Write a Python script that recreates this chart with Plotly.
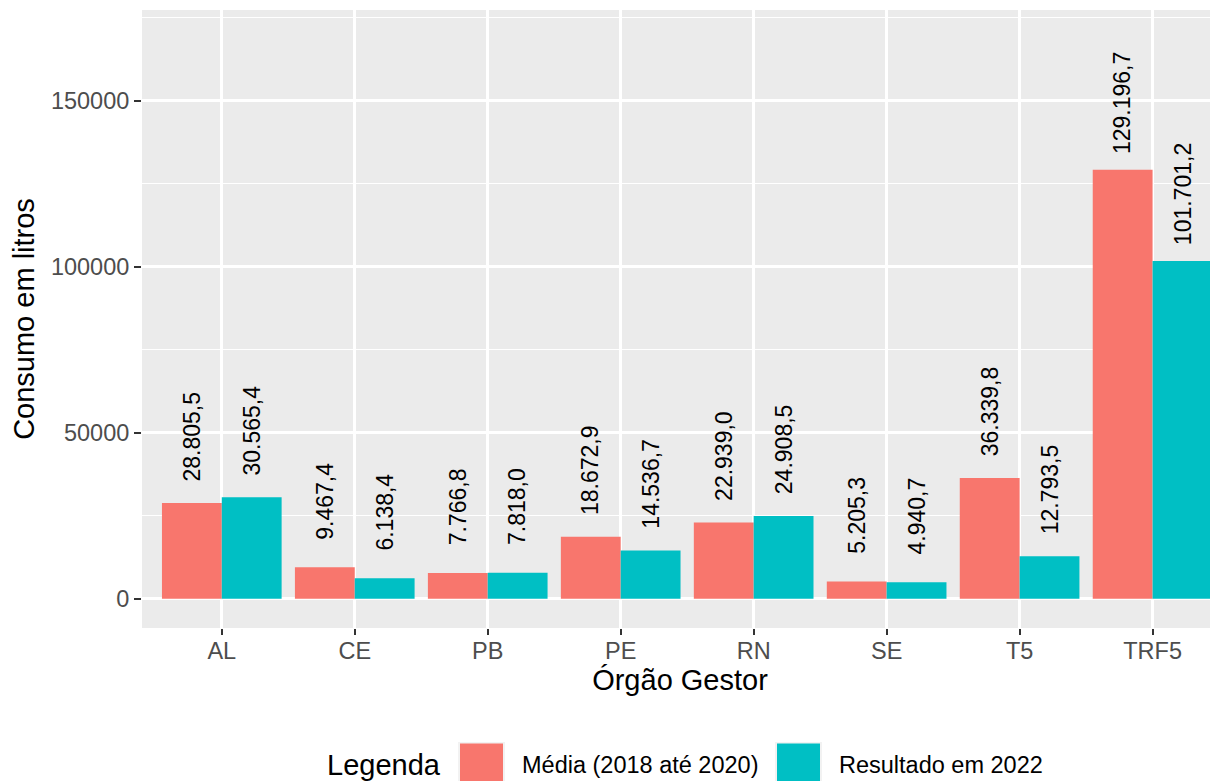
import plotly.graph_objects as go

# ---- data ----
categories = ["AL", "CE", "PB", "PE", "RN", "SE", "T5", "TRF5"]
media_2018_2020 = [28805.5, 9467.4, 7766.8, 18672.9, 22939.0, 5205.3, 36339.8, 129196.7]
resultado_2022 = [30565.4, 6138.4, 7818.0, 14536.7, 24908.5, 4940.7, 12793.5, 101701.2]
series_names = ["Média (2018 até 2020)", "Resultado em 2022"]
y_tickvals = [0, 50000, 100000, 150000]
label_nudge = 20000

# ---- style ----
# the page body has an 8px margin, so the figure is drawn 8px in from the window edge
OFF = 8
W, H = 1218 - OFF, 781 - OFF
M_L, M_R, M_T, M_B = 142 - OFF, 0, 10 - OFF, 781 - 628
RED, TEAL = "#F8766D", "#00BFC4"
FONT = "Liberation Sans, Arial, Helvetica, sans-serif"
PANEL = "#EBEBEB"

def fmt_br(v):
    s = f"{v:,.1f}"
    return s.replace(",", "X").replace(".", ",").replace("X", ".")

x_idx = list(range(len(categories)))

fig = go.Figure()
fig.add_trace(go.Bar(x=x_idx, y=media_2018_2020, name=series_names[0],
                     marker=dict(color=RED, line=dict(width=0)), showlegend=False))
fig.add_trace(go.Bar(x=x_idx, y=resultado_2022, name=series_names[1],
                     marker=dict(color=TEAL, line=dict(width=0)), showlegend=False))

# value labels
annotations = []
for vals, off in ((media_2018_2020, -0.225), (resultado_2022, 0.225)):
    for i, v in zip(x_idx, vals):
        annotations.append(dict(
            x=i + off, y=v + label_nudge, xref="x", yref="y",
            text=fmt_br(v), showarrow=False, textangle=-90,
            xanchor="center", yanchor="middle",
            font=dict(family=FONT, size=23, color="black")))

# custom legend (ggplot-like), positions given in window pixels
plot_h = H - M_T - M_B
plot_w = W - M_L - M_R
def py(p):  # window pixel y -> paper y
    return (H - M_B - (p - OFF)) / plot_h
def px(p):  # window pixel x -> paper x
    return ((p - OFF) - M_L) / plot_w

shapes = []
legend_y_center = 765
annotations.append(dict(x=px(443), y=py(legend_y_center), xref="paper", yref="paper",
                        text="Legenda", showarrow=False, xanchor="right", yanchor="middle",
                        font=dict(family=FONT, size=29, color="black")))
for (kx, col, lab) in ((458, RED, series_names[0]), (775, TEAL, series_names[1])):
    shapes.append(dict(type="rect", xref="paper", yref="paper",
                       x0=px(kx), x1=px(kx + 47), y0=py(742), y1=py(789),
                       fillcolor="#F2F2F2", line=dict(width=0), layer="above"))
    shapes.append(dict(type="rect", xref="paper", yref="paper",
                       x0=px(kx + 2), x1=px(kx + 45), y0=py(743.5), y1=py(787),
                       fillcolor=col, line=dict(width=0), layer="above"))
    annotations.append(dict(x=px(kx + 62), y=py(legend_y_center), xref="paper", yref="paper",
                            text=lab, showarrow=False, xanchor="left", yanchor="middle",
                            font=dict(family=FONT, size=23.5, color="black")))

fig.update_layout(
    width=W, height=H,
    margin=dict(l=M_L, r=M_R, t=M_T, b=M_B, pad=0),
    paper_bgcolor="white", plot_bgcolor=PANEL,
    barmode="group", bargap=0.1, bargroupgap=0,
    font=dict(family=FONT),
    annotations=annotations, shapes=shapes,
    showlegend=False,
)
fig.update_xaxes(
    type="linear", range=[-0.6, 7.492],
    tickvals=x_idx, ticktext=categories,
    showgrid=True, gridcolor="white", gridwidth=2.5,
    zeroline=False, showline=False,
    ticks="outside", ticklen=6, tickwidth=2, tickcolor="#333333",
    ticklabelstandoff=-4,
    tickfont=dict(family=FONT, size=23.5, color="#4D4D4D"),
    title=dict(text="Órgão Gestor", font=dict(family=FONT, size=29, color="black"), standoff=5),
)
fig.update_yaxes(
    range=[-8825, 177319],
    tickvals=y_tickvals, ticktext=[str(v) for v in y_tickvals],
    showgrid=True, gridcolor="white", gridwidth=2.5,
    minor=dict(dtick=25000, tick0=0, showgrid=True, gridcolor="white", gridwidth=1.2, ticks=""),
    zeroline=False, showline=False,
    ticks="outside", ticklen=7, tickwidth=2, tickcolor="#333333",
    tickfont=dict(family=FONT, size=23.5, color="#4D4D4D"),
    title=dict(text="Consumo em litros", font=dict(family=FONT, size=29, color="black"), standoff=8),
)

fig.write_html("out.html")
